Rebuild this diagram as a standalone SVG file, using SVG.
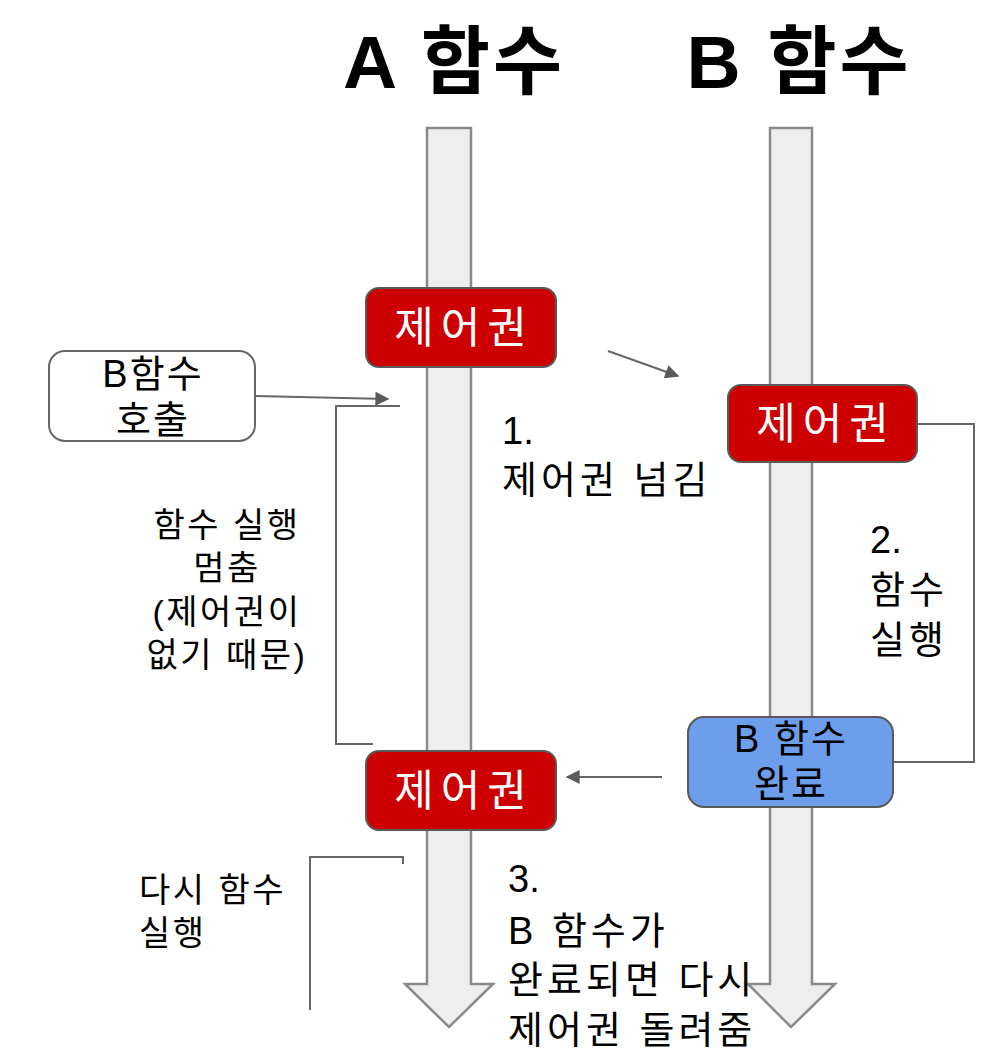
<svg xmlns="http://www.w3.org/2000/svg" width="1000" height="1054" viewBox="0 0 1000 1054">
<defs>
<marker id="ah2" viewBox="0 0 10 10" refX="9" refY="5" markerWidth="16" markerHeight="14" markerUnits="userSpaceOnUse" orient="auto">
<path d="M0,0 L10,5 L0,10 Z" fill="#595959"/>
</marker>
</defs>
<style>
text{font-family:"Liberation Sans","Noto Sans CJK KR",sans-serif;fill:#000}
.title{font-size:75px;font-weight:bold;text-anchor:middle;letter-spacing:3px}
.shaft{fill:#eeeeee;stroke:#8a8a8a;stroke-width:2.5}
.red{fill:#cc0000;stroke:#595959;stroke-width:2}
.redt{fill:#ffffff;font-size:43px;text-anchor:middle;letter-spacing:7px}
.blue{fill:#6d9eeb;stroke:#595959;stroke-width:2}
.white{fill:#ffffff;stroke:#666666;stroke-width:2}
.bt{font-size:38px;text-anchor:middle;letter-spacing:2px}
.lbl{font-size:38px;letter-spacing:4px}
.num{font-size:38px}
.lbl2{font-size:34px;letter-spacing:2.5px}
.c{fill:none;stroke:#666666;stroke-width:2}
</style>
<rect width="1000" height="1054" fill="#ffffff"/>
<g id="titles">
<text class="title" x="454" y="88">A 함수</text>
<text class="title" x="799" y="88">B 함수</text>
</g>
<g id="timeline-a">
<path class="shaft" d="M427,128 H471 V984 H493 L449,1027 L405,984 H427 Z"/>
</g>
<g id="timeline-b">
<path class="shaft" d="M770,128 H812 V984 H835 L791,1027 L748,984 H770 Z"/>
</g>
<g id="connectors">
<line class="c" x1="255" y1="396" x2="388" y2="399" marker-end="url(#ah2)"/>
<polyline class="c" points="400,406 336,406 336,744 373,744"/>
<line class="c" x1="608" y1="351" x2="678" y2="376" marker-end="url(#ah2)"/>
<polyline class="c" points="918,424 974,424 974,762 893,762"/>
<line class="c" x1="662" y1="777" x2="567" y2="777" marker-end="url(#ah2)"/>
<polyline class="c" points="403,864 403,857 310,857 310,1010"/>
</g>
<g id="node-call">
<rect class="white" x="49" y="351" width="206" height="90" rx="16"/>
<text class="bt" x="153" y="387">B함수</text>
<text class="bt" x="153" y="433">호출</text>
</g>
<g id="node-a-ctrl1">
<rect class="red" x="366" y="288" width="190" height="79" rx="13"/>
<text class="redt" x="464" y="343">제어권</text>
</g>
<g id="node-b-ctrl">
<rect class="red" x="728" y="385" width="189" height="77" rx="13"/>
<text class="redt" x="826" y="439">제어권</text>
</g>
<g id="node-b-done">
<rect class="blue" x="688" y="717" width="205" height="90" rx="16"/>
<text class="bt" x="791" y="752">B 함수</text>
<text class="bt" x="791" y="797">완료</text>
</g>
<g id="node-a-ctrl2">
<rect class="red" x="366" y="751" width="190" height="79" rx="13"/>
<text class="redt" x="464" y="806">제어권</text>
</g>
<g id="labels">
<text class="num" x="502" y="444">1.</text>
<text class="lbl" x="502" y="493">제어권 넘김</text>
<text class="num" x="870" y="553">2.</text>
<text class="lbl" x="870" y="603">함수</text>
<text class="lbl" x="870" y="653">실행</text>
<text class="num" x="508" y="892">3.</text>
<text class="lbl" x="508" y="944">B 함수가</text>
<text class="lbl" x="508" y="993">완료되면 다시</text>
<text class="lbl" x="508" y="1043">제어권 돌려줌</text>
<text class="lbl2" x="227" y="537" text-anchor="middle">함수 실행</text>
<text class="lbl2" x="227" y="580" text-anchor="middle">멈춤</text>
<text class="lbl2" x="227" y="624" text-anchor="middle">(제어권이</text>
<text class="lbl2" x="227" y="667" text-anchor="middle">없기 때문)</text>
<text class="lbl2" x="139" y="902">다시 함수</text>
<text class="lbl2" x="139" y="945">실행</text>
</g>
</svg>
